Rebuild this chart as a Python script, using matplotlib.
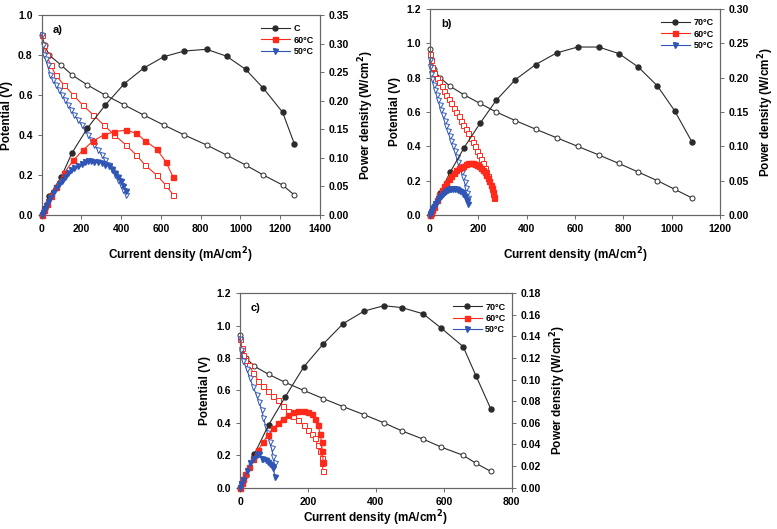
import numpy as np
import matplotlib.pyplot as plt

plt.rcParams['font.family'] = ['Liberation Sans', 'DejaVu Sans']
plt.rcParams['font.weight'] = 'bold'

# ---- panel a ----
a70_i = [0, 15, 37, 97, 153, 230, 319, 416, 513, 614, 718, 830, 930, 1026, 1115, 1212, 1271]
a70_v = [0.90, 0.85, 0.80, 0.75, 0.70, 0.65, 0.60, 0.55, 0.50, 0.45, 0.40, 0.35, 0.30, 0.25, 0.20, 0.15, 0.10]
a70_p = [0.0, 0.013, 0.033, 0.066, 0.109, 0.152, 0.192, 0.230, 0.257, 0.277, 0.287, 0.290, 0.278, 0.255, 0.222, 0.180, 0.125]

a60_i = [0, 10, 25, 45, 70, 112, 159, 206, 260, 312, 366, 424, 476, 520, 578, 624, 662]
a60_v = [0.90, 0.85, 0.80, 0.75, 0.70, 0.65, 0.60, 0.55, 0.50, 0.45, 0.40, 0.35, 0.30, 0.25, 0.20, 0.15, 0.10]
a60_p = [0.0, 0.0085, 0.020, 0.034, 0.049, 0.073, 0.0955, 0.113, 0.130, 0.140, 0.146, 0.1485, 0.143, 0.130, 0.1155, 0.0935, 0.066]

a50_i = [0, 5, 12, 20, 30, 42, 57, 72, 86, 100, 117, 134, 148, 163, 182, 201, 218, 235,
         250, 265, 283, 302, 320, 340, 355, 369, 383, 397, 410, 424]
a50_v = [0.90, 0.85, 0.80, 0.78, 0.75, 0.70, 0.675, 0.65, 0.625, 0.60, 0.575, 0.55, 0.525, 0.50,
         0.475, 0.45, 0.425, 0.40, 0.375, 0.35, 0.325, 0.30, 0.275, 0.25, 0.225, 0.20, 0.175,
         0.15, 0.125, 0.10]
a50_p = [0.0, 0.004, 0.0096, 0.0156, 0.0225, 0.029, 0.038, 0.047, 0.054, 0.060, 0.067, 0.074,
         0.078, 0.0815, 0.086, 0.090, 0.0925, 0.094, 0.094, 0.093, 0.092, 0.0906, 0.088, 0.085,
         0.080, 0.074, 0.067, 0.060, 0.051, 0.042]

# ---- panel b ----
b70_i = [0, 16, 41, 83, 141, 207, 274, 353, 437, 524, 611, 698, 782, 862, 941, 1012, 1083]
b70_v = [0.965, 0.85, 0.80, 0.75, 0.70, 0.65, 0.60, 0.55, 0.50, 0.45, 0.40, 0.35, 0.30, 0.25, 0.20, 0.15, 0.10]
b70_p = [0.0, 0.013, 0.032, 0.062, 0.098, 0.1335, 0.167, 0.197, 0.219, 0.236, 0.2446, 0.2446, 0.235, 0.2155, 0.188, 0.152, 0.107]

b60_i = [0, 3, 8, 15, 28, 38, 50, 58, 66, 77, 88, 98, 108, 118, 128, 138, 149, 158, 168, 177,
         186, 194, 202, 210, 218, 226, 232, 240, 245, 252, 258, 262, 266]
b60_v = [0.94, 0.90, 0.86, 0.83, 0.80, 0.775, 0.75, 0.725, 0.70, 0.675, 0.65, 0.625, 0.60, 0.575,
         0.55, 0.525, 0.50, 0.475, 0.45, 0.425, 0.40, 0.375, 0.35, 0.325, 0.30, 0.275, 0.25,
         0.225, 0.20, 0.175, 0.15, 0.125, 0.10]
b60_p = [0.0, 0.003, 0.007, 0.012, 0.022, 0.029, 0.037, 0.042, 0.046, 0.052, 0.057, 0.061, 0.065,
         0.068, 0.070, 0.072, 0.0745, 0.075, 0.0756, 0.0752, 0.0744, 0.0728, 0.0707, 0.068,
         0.065, 0.062, 0.058, 0.054, 0.049, 0.044, 0.039, 0.033, 0.026]

b50_i = [0, 2, 5, 10, 16, 22, 28, 34, 40, 47, 54, 61, 68, 75, 82, 89, 96, 103, 110, 117, 124,
         131, 138, 144, 149, 153, 157]
b50_v = [0.90, 0.86, 0.82, 0.79, 0.76, 0.73, 0.70, 0.67, 0.64, 0.61, 0.58, 0.55, 0.52, 0.49,
         0.46, 0.43, 0.40, 0.37, 0.34, 0.31, 0.28, 0.25, 0.22, 0.19, 0.16, 0.13, 0.10]
b50_p = [0.0, 0.002, 0.004, 0.008, 0.012, 0.016, 0.019, 0.023, 0.026, 0.028, 0.031, 0.0335,
         0.0355, 0.0365, 0.0375, 0.038, 0.0385, 0.038, 0.0375, 0.036, 0.035, 0.033, 0.030,
         0.027, 0.024, 0.020, 0.016]

# ---- panel c ----
c70_i = [0, 5, 18, 42, 84, 133, 188, 245, 304, 366, 424, 477, 539, 593, 657, 695, 739]
c70_v = [0.94, 0.85, 0.80, 0.75, 0.70, 0.65, 0.60, 0.55, 0.50, 0.45, 0.40, 0.35, 0.30, 0.25, 0.20, 0.15, 0.10]
c70_p = [0.0, 0.004, 0.0117, 0.031, 0.058, 0.084, 0.112, 0.133, 0.152, 0.1636, 0.1685, 0.1667,
         0.161, 0.1476, 0.1306, 0.1034, 0.0725]

c60_i = [0, 5, 10, 16, 25, 39, 54, 68, 83, 98, 113, 128, 142, 157, 172, 187, 201, 212, 221,
         229, 236, 240, 242, 245]
c60_v = [0.92, 0.86, 0.82, 0.79, 0.76, 0.71, 0.66, 0.625, 0.595, 0.565, 0.54, 0.505, 0.475,
         0.445, 0.415, 0.385, 0.355, 0.33, 0.305, 0.265, 0.225, 0.185, 0.15, 0.10]
c60_p = [0.0, 0.004, 0.008, 0.013, 0.019, 0.027, 0.035, 0.042, 0.049, 0.055, 0.060, 0.064,
         0.067, 0.070, 0.071, 0.071, 0.070, 0.068, 0.064, 0.058, 0.050, 0.042, 0.034, 0.024]

c50_i = [0, 3, 10, 20, 29, 39, 49, 56, 64, 69, 76, 83, 88, 93, 98, 103]
c50_v = [0.92, 0.85, 0.78, 0.73, 0.675, 0.62, 0.57, 0.53, 0.48, 0.43, 0.377, 0.335, 0.284,
         0.243, 0.19, 0.15]
c50_p = [0.0, 0.003, 0.007, 0.015, 0.0225, 0.027, 0.030, 0.031, 0.027, 0.0265, 0.0256, 0.024,
         0.022, 0.020, 0.018, 0.010]

COL = {'70': '#2b2b2b', '60': '#ff2a1a', '50': '#2f55b5'}
MARK = {'70': 'o', '60': 's', '50': 'v'}


def draw_panel(rect, series, labels, xlim, xticks, ylim, yticks, rlim, rticks, tag, xpad):
    ax = fig.add_axes(rect)
    ax2 = ax.twinx()
    for (key, i, v, p), lab in zip(series, labels):
        c = COL[key]
        ax.plot(i, v, color=c, lw=0.8, marker=MARK[key], ms=3.6, mfc='white', mec=c,
                mew=0.7, clip_on=False, zorder=3)
        ax2.plot(i, p, color=c, lw=0.8, marker=MARK[key], ms=3.6, mfc=c, mec=c,
                 clip_on=False, label=lab, zorder=3)
    ax.set_xlim(xlim)
    ax.set_ylim(ylim)
    ax2.set_ylim(rlim)
    ax.set_xticks(xticks)
    ax.set_yticks(yticks)
    ax2.set_yticks(rticks)
    ax.set_yticklabels([f'{t:.1f}' for t in yticks])
    ax2.set_yticklabels([f'{t:.2f}' for t in rticks])
    for a in (ax, ax2):
        a.tick_params(labelsize=7.5, length=3, width=0.6, color='#555', direction='out')
        for s in a.spines.values():
            s.set_color('#666')
            s.set_linewidth(0.8)
    ax.set_ylabel('Potential (V)', fontsize=8.5, fontweight='bold', labelpad=4)
    ax2.set_ylabel('Power density (W/cm$^\\mathbf{2}$)', fontsize=8.5, fontweight='bold', labelpad=5)
    ax.set_xlabel('Current density (mA/cm$^\\mathbf{2}$)', fontsize=8.5, fontweight='bold', labelpad=xpad)
    ax.text(0.04, 0.95, tag, transform=ax.transAxes, fontsize=8, fontweight='bold', va='top')
    ax2.legend(loc='upper right', frameon=False, fontsize=6.5, handlelength=3.2,
               handletextpad=0.4, labelspacing=0.25, borderaxespad=0.3,
               bbox_to_anchor=(1.0, 0.985))
    return ax, ax2


fig = plt.figure(figsize=(7.77, 5.29), dpi=100)

draw_panel([0.0537, 0.5936, 0.358, 0.378],
           [('70', a70_i, a70_v, a70_p), ('60', a60_i, a60_v, a60_p), ('50', a50_i, a50_v, a50_p)],
           ['C', '60°C', '50°C'],
           (0, 1400), np.arange(0, 1401, 200), (0, 1.0), np.arange(0, 1.01, 0.2),
           (0, 0.35), np.arange(0, 0.351, 0.05), 'a)', 8)

draw_panel([0.5534, 0.5936, 0.3732, 0.3894],
           [('70', b70_i, b70_v, b70_p), ('60', b60_i, b60_v, b60_p), ('50', b50_i, b50_v, b50_p)],
           ['70°C', '60°C', '50°C'],
           (0, 1200), np.arange(0, 1201, 200), (0, 1.2), np.arange(0, 1.21, 0.2),
           (0, 0.30), np.arange(0, 0.301, 0.05), 'b)', 8)

draw_panel([0.3089, 0.0781, 0.3497, 0.3675],
           [('70', c70_i, c70_v, c70_p), ('60', c60_i, c60_v, c60_p), ('50', c50_i, c50_v, c50_p)],
           ['70°C', '60°C', '50°C'],
           (0, 800), np.arange(0, 801, 200), (0, 1.2), np.arange(0, 1.21, 0.2),
           (0, 0.18), np.arange(0, 0.181, 0.02), 'c)', 1.5)

fig.savefig('out.png', dpi=100)
